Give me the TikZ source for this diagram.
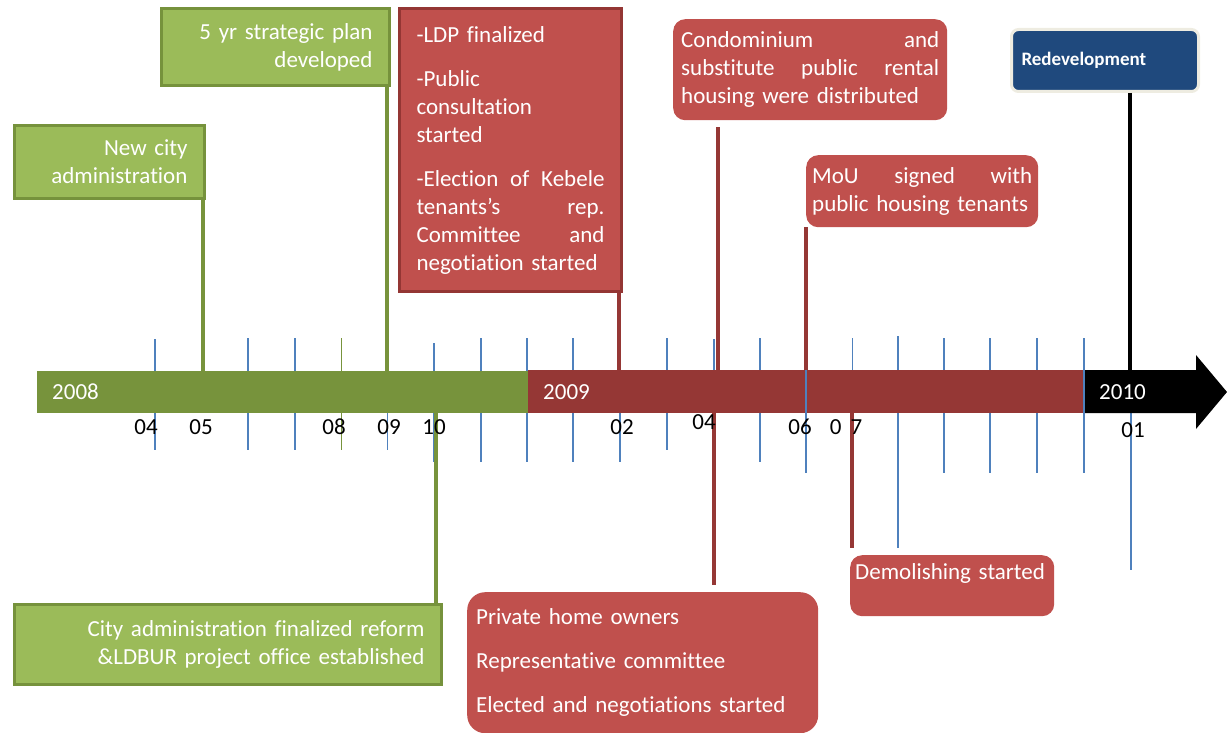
\documentclass[tikz,border=0pt]{standalone}
\usepackage{fontspec}
\setmainfont{Carlito}[Ligatures=NoCommon]
\usepackage{xcolor}
\usepackage{tikz}
\usetikzlibrary{positioning}

\definecolor{gfill}{HTML}{9BBB59}
\definecolor{gborder}{HTML}{76923C}
\definecolor{bargreen}{HTML}{77933C}
\definecolor{rfill}{HTML}{C0504D}
\definecolor{rborder}{HTML}{943634}
\definecolor{barred}{HTML}{953735}
\definecolor{bluefill}{HTML}{1F497D}
\definecolor{blueedge}{HTML}{EEECE1}
\definecolor{tickblue}{HTML}{4F81BD}

\begin{document}
\begin{tikzpicture}[x=1pt, y=-1pt,
    gbox/.style={draw=gborder, line width=3pt, fill=gfill, text=white, align=right, anchor=north west, inner xsep=17pt, font=\fontsize{23}{28}\selectfont},
    rbox/.style={fill=rfill, text=white, align=left, anchor=north west, rounded corners=12pt, font=\fontsize{23}{28}\selectfont},
    gline/.style={bargreen, line width=4pt},
    rline/.style={barred, line width=4pt},
    mtick/.style={tickblue, line width=1.3pt},
    monthlabel/.style={font=\fontsize{23}{28}\selectfont, inner sep=0pt},
    yearlabel/.style={text=white, anchor=west, font=\fontsize{23}{28}\selectfont, inner sep=0pt}]
    \useasboundingbox (0,0) rectangle (1227,733);

    % month ticks
    \foreach \x/\ya/\yb in {155/339/450, 248/338/450, 295/338/450, 387.5/412/450, 434/343/462, 481/338/462, 527/338/462, 573/338/462, 620/338/462, 667/338/450, 714/339/440, 760/338/462, 852.5/338/470, 898/336/548, 944/338/473, 990/338/473, 1037/338/473, 1131/412/570}
        \draw[mtick] (\x,\ya) -- (\x,\yb);
    \draw[bargreen, line width=1pt] (341,338) -- (341,450);

    % the time bar, one colour per year
    \fill[bargreen] (37,371) rectangle (528,413);
    \fill[barred] (528,370) rectangle (1084,413);
    \fill[black] (1084,370) -- (1196,370) -- (1196,355) -- (1227,392) -- (1196,429) -- (1196,413) -- (1084,413) -- cycle;
    \draw[mtick] (806,338) -- (806,473);
    \draw[mtick] (1084,338) -- (1084,473);

    \node[yearlabel] (y2008) at (52,392) {2008};
    \node[yearlabel] (y2009) at (543,392) {2009};
    \node[yearlabel] (y2010) at (1099,392) {2010};

    % points on the bar
    \coordinate (m05) at (203,371);
    \coordinate (m09) at (387,371);
    \coordinate (m10) at (436,413);
    \coordinate (m02) at (619,370);
    \coordinate (m04t) at (718,370);
    \coordinate (m04b) at (714,413);
    \coordinate (m06) at (806,370);
    \coordinate (m07) at (852,413);
    \coordinate (m01) at (1130,370);

    % events above the bar
    \node[gbox, minimum width=190, minimum height=73, text width=156] (newcity) at (13,124) {New city\\ administration};
    \node[gbox, minimum width=228, minimum height=77, text width=194] (plan) at (160,7) {5 yr strategic plan\\ developed};
    \node[rbox, draw=rborder, line width=3pt, sharp corners, minimum width=222, minimum height=283, text width=188, inner xsep=17pt] (ldp) at (398,7)
        {-LDP finalized\\[16pt] -Public\\ consultation\\ started\\[16pt] -Election\hfill of\hfill Kebele\\ tenants’s\hfill rep.\\ Committee\hfill and\\ negotiation started};
    \node[rbox, minimum width=274, minimum height=101, text width=258, inner xsep=8pt] (condo) at (673,19)
        {Condominium\hfill and\\ substitute\hfill public\hfill rental\\ housing were distributed};
    \node[rbox, minimum width=232, minimum height=72, text width=220, inner xsep=6pt] (mou) at (806,155)
        {MoU\hfill signed\hfill with\\ public housing tenants};
    \node[draw=blueedge, line width=3pt, fill=bluefill, text=white, rounded corners=7pt, anchor=north west, minimum width=187, minimum height=62, text width=167, inner xsep=10pt, align=left, font=\fontsize{19}{24}\selectfont\bfseries] (redev) at (1010,28) {Redevelopment};

    % events below the bar
    \node[gbox, minimum width=427, minimum height=80, text width=393] (reform) at (13,603) {City administration finalized reform\\ \&LDBUR project office established};
    \node[rbox, rounded corners=18pt, minimum width=351, minimum height=141, text width=333, inner xsep=9pt] (private) at (467,592)
        {Private home owners\\[16pt] Representative committee\\[16pt] Elected and negotiations started};
    \node[rbox, minimum width=204, minimum height=61, text width=194, inner xsep=5pt, inner ysep=3pt] (demol) at (850,555) {Demolishing started\\ \mbox{}};

    % connectors
    \draw[gline] (newcity.south -| m05) -- (m05);
    \draw[gline] (plan.south -| m09) -- (m09);
    \draw[rline] (ldp.south -| m02) -- (m02);
    \draw[rline, shorten <=7pt] (condo.south -| m04t) -- (m04t);
    \draw[rline] (mou.south -| m06) -- (m06);
    \draw[black, line width=4pt] (redev.south -| m01) -- (m01);
    \draw[gline] (m10) -- (reform.north -| m10);
    \draw[rline, shorten >=7pt] (m04b) -- (private.north -| m04b);
    \draw[rline, shorten >=7pt] (m07) -- (demol.north -| m07);

    % month labels
    \node[monthlabel] (l04a) at (146,427) {04};
    \node[monthlabel] (l05) at (201,427) {05};
    \node[monthlabel] (l08) at (334,427) {08};
    \node[monthlabel] (l09) at (389,427) {09};
    \node[monthlabel] (l10) at (434,427) {10};
    \node[monthlabel] (l02) at (622,427) {02};
    \node[monthlabel] (l04b) at (704,422) {04};
    \node[monthlabel] (l06) at (800,427) {06};
    \node[monthlabel] (l07) at (846,427) {0\ \,7};
    \node[monthlabel] (l01) at (1133,430) {01};
\end{tikzpicture}
\end{document}
